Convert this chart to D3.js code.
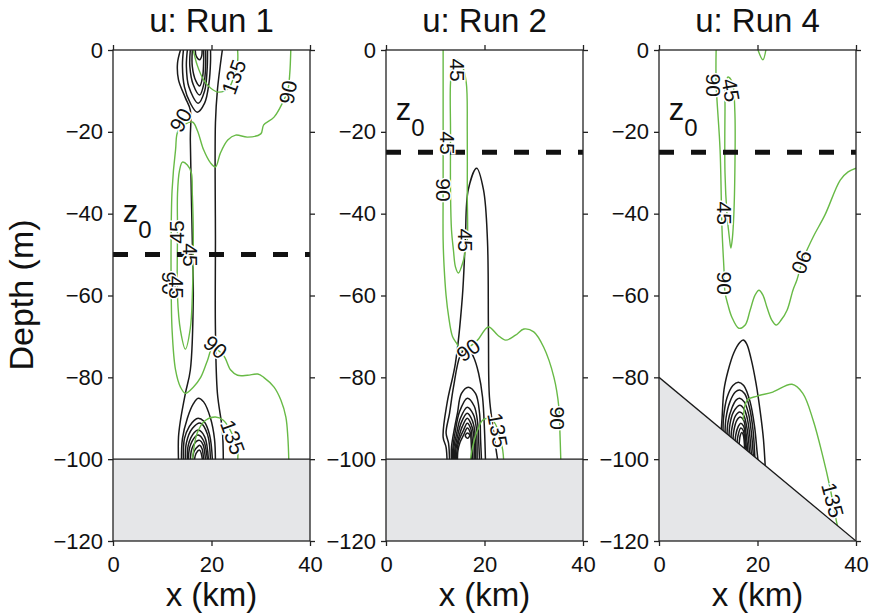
<!DOCTYPE html>
<html>
<head>
<meta charset="utf-8">
<script src="https://cdn.jsdelivr.net/npm/d3@7"></script>
<style>
  body { margin: 0; background: #fff; }
  svg { font-family: "Liberation Sans", Arial, Helvetica, sans-serif; }
</style>
</head>
<body>
<svg id="chart" width="870" height="615"></svg>
<script>
// ---- data (x in km, z in m) ----
var xTicks = [0, 20, 40];
var yTicks = [0, -20, -40, -60, -80, -100, -120];
var titles = ["u: Run 1", "u: Run 2", "u: Run 4"];
var z0Depth = [-50, -25, -25];

var bottom1 = [[0, -100], [40, -100]];
var bottom2 = [[0, -100], [40, -100]];
var bottom4 = [[0, -80], [40, -120]];

// black contours (u)
var run1Black = [
  [[13.7,0],[13.1,-3.2],[13.3,-7.3],[14.7,-11.7],[15.7,-14.7],[15.7,-22],[16.1,-46.5],[16.3,-60.4],[15.7,-78.2],[14.7,-83.9],[13.7,-90.5],[13.3,-94.6],[13.3,-100.5]],
  [[22.2,0],[21.2,-9.8],[20.8,-17.8],[20.8,-46.5],[20.8,-68.5],[21.2,-83.9],[22.2,-92.9],[22.4,-100.5]],
  [[14.3,0],[14.1,-4],[14.5,-9],[15.7,-13],[17.1,-15.2],[18.6,-13],[19.5,-8],[19.8,-3],[19.8,0]],
  [[15.1,0],[14.9,-4],[15.4,-9],[17.3,-13],[18.6,-10],[19.1,-5],[19.2,0]],
  [[15.7,0],[15.6,-4],[16.3,-8.5],[17.6,-11],[18.5,-8],[18.8,-4],[18.8,0]],
  [[16.1,0],[16.1,-4],[16.8,-7.5],[17.6,-8.8],[18.2,-6.5],[18.4,-3],[18.4,0]],
  [[16.7,0],[16.9,-1.5],[17.6,-2.4],[18,-1.5],[18.1,0]],
  [[13.9,-100.5],[14.1,-95],[15.1,-90],[16.3,-86.5],[17.3,-85.1],[18.4,-86],[19.8,-90],[20.6,-95],[20.8,-100.5]],
  [[14.3,-100.5],[14.5,-95],[15.5,-92],[16.5,-90.5],[17.3,-90],[18.4,-90.7],[19.6,-94],[20.2,-100.5]],
  [[14.7,-100.5],[14.9,-96],[16.1,-92.5],[17.8,-91.2],[19.2,-94],[19.8,-100.5]],
  [[15.1,-100.5],[15.3,-96.5],[16.5,-93.5],[17.3,-92.9],[18.6,-94.5],[19.4,-100.5]],
  [[15.3,-100.5],[15.6,-97],[16.7,-94.5],[17.3,-94.1],[18.4,-95.5],[19.2,-100.5]],
  [[15.7,-100.5],[16,-97.5],[17,-95.6],[17.6,-95.4],[18.3,-96.5],[18.8,-100.5]],
  [[16.1,-100.5],[16.5,-98],[17.3,-96.8],[17.6,-96.6],[18.1,-97.5],[18.4,-100.5]],
  [[16.5,-100.5],[16.9,-98.5],[17.6,-97.8],[18.2,-100.5]]
];
var run2Black = [
  [[12.4,-100.5],[12.2,-97.1],[11.6,-94.6],[12.4,-86.3],[14.1,-76.5],[15.5,-60.4],[16.1,-46.5],[16.7,-34.2],[18.4,-28.9],[19.8,-34.2],[20.6,-46.5],[20.8,-68.5],[21,-84.8],[21.8,-92.9],[22.7,-100.5]],
  [[12.9,-100.5],[12.7,-96.1],[12.2,-93.6],[12.9,-88.8],[13.7,-82.4],[15.1,-74.6],[16.5,-72.6],[17.8,-75.1],[18.8,-79],[19.6,-84.8],[20,-92.9],[20.2,-100.5]],
  [[13.3,-100.5],[13.3,-97],[13.9,-92.5],[14.5,-88.8],[15.3,-84],[16.7,-82.4],[18.2,-84],[19,-88.8],[19.2,-95],[19.4,-100.5]],
  [[13.5,-100.5],[13.6,-97],[14.1,-93],[14.9,-88.5],[16.5,-85.1],[17.9,-87],[18.6,-91],[18.8,-95],[19,-100.5]],
  [[13.7,-100.5],[13.8,-97],[14.3,-94],[15.1,-90],[16.5,-87.3],[17.7,-89],[18.3,-92],[18.5,-100.5]],
  [[13.9,-100.5],[14,-97.5],[14.5,-94.5],[15.3,-91],[16.5,-88.8],[17.5,-90.5],[18,-93],[18.2,-100.5]],
  [[14.1,-100.5],[14.2,-97.5],[14.7,-95],[15.5,-92],[16.5,-90],[17.3,-91.5],[17.8,-94],[17.9,-100.5]],
  [[14.3,-100.5],[14.4,-98],[14.8,-95.5],[15.7,-93],[16.5,-91.2],[17.2,-92.5],[17.5,-95],[17.6,-100.5]],
  [[14.5,-100.5],[14.6,-98],[15,-96],[15.8,-94],[16.5,-92.4],[17.1,-93.5],[17.3,-96],[17.4,-100.5]],
  [[16.1,-94.3],[16.5,-93.6],[17,-94.1],[16.6,-94.9],[16.1,-94.3]]
];
var run4Black = [
  [[12.6,-93.5],[12.8,-90],[13.2,-83],[14,-78.5],[15.2,-74],[16.4,-71.5],[17.1,-70.9],[17.8,-71.8],[18.7,-75.5],[19.7,-81.5],[20.6,-88.8],[21.2,-95],[21.6,-102.5]],
  [[13,-93.8],[13.1,-90],[13.8,-85],[15,-82],[16.1,-81.2],[17.2,-82],[18.5,-86],[19.4,-92],[19.9,-98],[20.2,-101.5]],
  [[13.4,-94],[13.6,-90],[14.4,-86],[15.5,-83.6],[16.4,-83.1],[17.4,-84],[18.4,-87.5],[19.1,-93],[19.5,-100.5]],
  [[13.8,-94.5],[14,-91],[14.8,-87.5],[15.7,-85.5],[16.4,-85.1],[17.3,-86],[18.2,-89],[18.8,-94],[19.2,-100]],
  [[14.2,-95],[14.4,-91.5],[15.1,-88.5],[16.4,-86.8],[17.3,-87.8],[18,-90.5],[18.5,-95],[18.8,-99.5]],
  [[14.6,-95.5],[14.8,-92.5],[15.5,-89.5],[16.4,-88.5],[17.2,-89.3],[17.8,-92],[18.2,-95.5],[18.4,-99]],
  [[15,-96],[15.2,-93],[15.8,-90.5],[16.5,-89.7],[17.2,-90.5],[17.6,-93],[17.9,-96],[18.1,-99]],
  [[15.4,-96.5],[15.6,-94],[16.1,-92],[16.6,-91.2],[17.2,-92],[17.5,-94],[17.8,-98.5]],
  [[15.8,-97],[16,-94.5],[16.6,-92.4],[17.1,-93],[17.4,-95],[17.6,-98.5]],
  [[16.2,-97.5],[16.5,-94.2],[16.8,-93.5],[17.1,-94],[17.4,-98]]
];

// green contours
var run1Green = [
  [[36.1,0],[35.9,-5.6],[35.5,-9.8],[34.5,-12.7],[32.7,-16.4],[30.6,-18.3],[30,-20.5],[27.3,-21.3],[24.9,-20.8],[23.3,-22],[21.8,-25.2],[20.8,-28.6],[19.8,-27.6],[18.4,-24.4],[17.1,-19.6],[16.1,-17.6],[13.3,-19.6],[12.7,-24.4],[12,-34.2],[11.8,-46.5],[11.8,-56.2],[12,-68.5],[12.7,-78.2],[13.7,-82.4],[14.7,-83.9],[16.3,-82.4],[17.8,-80],[19.2,-75.8],[20.2,-72.9],[22.4,-74.6],[23.9,-78.2],[25.3,-79.5],[27.3,-79.5],[29.4,-79.2],[30.6,-80],[32.7,-82.4],[34.1,-85.6],[35.1,-89.7],[35.5,-94.6],[35.7,-100.5]],
  [[14.7,-73.1],[13.7,-68.5],[13.1,-60.4],[13.1,-44],[13.1,-35],[13.5,-29.5],[14.1,-27.4],[15.1,-28.1],[15.9,-30],[16.1,-35],[16.3,-44],[16.1,-60.4],[15.7,-68],[14.7,-73.1]],
  [[16.3,0],[17.1,-3.7],[18.4,-7.3],[19.8,-9.3],[21.4,-10.3],[23.5,-9.3],[24.5,-6.6],[25.3,-2.9],[25.3,0]],
  [[16.1,-100.5],[17.1,-93.6],[18.8,-90.5],[20.8,-89.7],[22.4,-90.5],[24.3,-94.1],[25.3,-97.8],[25.3,-100.5]]
];
var run2Green = [
  [[11.6,0],[11.6,-20],[11.6,-34],[11.6,-46.5],[11.8,-53],[12.2,-60],[12.7,-65],[13.5,-70],[14.3,-71.6],[15.3,-73.3],[17,-72.5],[18.6,-70.9],[20.8,-67.7],[22.7,-69.7],[24.3,-70.9],[26.3,-69.7],[28,-68.2],[30,-68.9],[32,-72.6],[34.1,-80],[35.1,-87.3],[35.3,-92.9],[35.5,-100.5]],
  [[14.5,-2.5],[15.5,-4],[16.3,-8],[16.5,-20],[16.5,-35],[16.5,-46.5],[16.1,-49],[15.7,-51.5],[14.7,-54.5],[14.1,-53],[13.7,-49],[13.3,-44],[13.1,-35],[13.1,-20],[13.1,-8],[13.5,-4],[14.5,-2.5]],
  [[17.1,-100.5],[17.6,-97],[18.6,-92.9],[19.6,-90.5],[20.8,-90],[22,-91],[23,-94],[23.7,-97.8],[23.9,-100.5]]
];
var run4Green = [
  [[20.1,0],[21.1,-2.4],[21.7,0]],
  [[11.6,0],[11.6,-8.1],[12.4,-24.4],[12.8,-44],[13.2,-53.8],[13.4,-59.2],[14,-62.3],[14.8,-65.3],[16.2,-68],[17.5,-67.2],[18.5,-63.6],[19.5,-59.9],[20.3,-58.7],[21.1,-59.9],[21.9,-62.8],[22.9,-66],[23.8,-67.2],[24.8,-66],[26,-63.6],[27.2,-58.7],[28,-56.2],[29.2,-51.3],[31.3,-45.7],[33.7,-40.3],[36.8,-31.8],[38.4,-29.8],[40,-28.9]],
  [[14,-6.6],[14.9,-8],[15.4,-15],[15.4,-30],[15.2,-40],[14.9,-46],[14.6,-48.4],[14.3,-46],[13.8,-40],[13.4,-30],[13.4,-15],[13.5,-9],[14,-6.6]],
  [[17.1,-90.5],[17.9,-85.6],[19.9,-84.6],[23.1,-83.6],[27,-81.7],[29.2,-83.9],[31.3,-90.5],[33.3,-99.5],[34.7,-106.8],[36.1,-115.6],[36.4,-117]]
];

// contour labels: [text, x, z, angle]
var run1Labels = [
  ["135", 24.5, -6.6, -70], ["90", 35.5, -10.3, -80], ["90", 13.7, -17.1, -60],
  ["45", 12.9, -44.5, -90], ["45", 15.7, -50.1, 90], ["90", 11.4, -57, 90],
  ["45", 12.9, -58, 90], ["90", 20.8, -72.6, 40], ["135", 24.3, -94.6, 70]
];
var run2Labels = [
  ["45", 14.5, -4.9, 90], ["45", 12.4, -22.7, 90], ["90", 11.6, -34.2, 90],
  ["45", 16.1, -46.5, 90], ["90", 16.7, -73.3, -35], ["135", 22.7, -92.9, 80],
  ["90", 34.9, -90, 90]
];
var run4Labels = [
  ["90", 11, -8.6, 90], ["45", 14.6, -9.8, 80], ["45", 13.4, -39.9, 90],
  ["90", 13.4, -57, 90], ["90", 29, -51.8, 110], ["135", 35.3, -110, 75]
];

var panels = [
  {black: run1Black, green: run1Green, labels: run1Labels, bottom: bottom1},
  {black: run2Black, green: run2Green, labels: run2Labels, bottom: bottom2},
  {black: run4Black, green: run4Green, labels: run4Labels, bottom: bottom4}
];

// ---- layout ----
var lefts = [113, 386, 659];
var pw = 197, yTop = 50, yBot = 541;
var green = "#68ba46";

var svg = d3.select("#chart");

panels.forEach(function(p, i) {
  var x = d3.scaleLinear().domain([0, 40]).range([lefts[i], lefts[i] + pw]);
  var y = d3.scaleLinear().domain([0, -120]).range([yTop, yBot]);
  var g = svg.append("g");

  var cid = "clip" + i;
  svg.append("clipPath").attr("id", cid).append("rect")
    .attr("x", x(0)).attr("y", y(0)).attr("width", pw).attr("height", yBot - yTop);
  var inner = g.append("g").attr("clip-path", "url(#" + cid + ")");

  var line = d3.line().x(function(d) { return x(d[0]); }).y(function(d) { return y(d[1]); })
    .curve(d3.curveCatmullRom.alpha(0.5));
  var loop = d3.line().x(function(d) { return x(d[0]); }).y(function(d) { return y(d[1]); })
    .curve(d3.curveCatmullRomClosed.alpha(0.5));
  var straight = d3.line().x(function(d) { return x(d[0]); }).y(function(d) { return y(d[1]); });
  function path(d) {
    var a = d[0], b = d[d.length - 1];
    return (a[0] === b[0] && a[1] === b[1]) ? loop(d.slice(0, -1)) : line(d);
  }

  inner.selectAll(".blk").data(p.black).enter().append("path")
    .attr("d", path).attr("fill", "none").attr("stroke", "#1a1a1a").attr("stroke-width", 1.5);
  inner.selectAll(".grn").data(p.green).enter().append("path")
    .attr("d", path).attr("fill", "none").attr("stroke", green).attr("stroke-width", 1.4);

  // sea floor
  var floor = p.bottom.concat([[40, -120], [0, -120]]);
  inner.append("path").attr("d", straight(floor) + "Z")
    .attr("fill", "#e5e6e8").attr("stroke", "none");
  inner.append("path").attr("d", straight(p.bottom))
    .attr("fill", "none").attr("stroke", "#1a1a1a").attr("stroke-width", 1.3);

  // z0 dashed line
  inner.append("line")
    .attr("x1", x(0)).attr("x2", x(40)).attr("y1", y(z0Depth[i])).attr("y2", y(z0Depth[i]))
    .attr("stroke", "#111").attr("stroke-width", 5).attr("stroke-dasharray", "15,17");

  // contour labels
  g.selectAll(".lab").data(p.labels).enter().append("text")
    .attr("transform", function(d) { return "translate(" + x(d[1]) + "," + y(d[2]) + ") rotate(" + d[3] + ")"; })
    .attr("text-anchor", "middle").attr("dominant-baseline", "central")
    .attr("font-size", 21).attr("fill", "#111")
    .attr("stroke", "#fff").attr("stroke-width", 3).attr("paint-order", "stroke")
    .text(function(d) { return d[0]; });

  // z0 label
  var zl = g.append("text").attr("x", x(2)).attr("y", y(z0Depth[i] + 8)).attr("font-size", 31).attr("fill", "#111");
  zl.append("tspan").text("z");
  zl.append("tspan").attr("font-size", 24).attr("dy", 16).text("0");

  // frame and axes
  g.append("rect").attr("x", x(0)).attr("y", y(0)).attr("width", pw).attr("height", yBot - yTop)
    .attr("fill", "none").attr("stroke", "#222").attr("stroke-width", 1.3);

  var ax = [
    g.append("g").attr("transform", "translate(" + x(0) + ",0)")
      .call(d3.axisLeft(y).tickValues(yTicks).tickSize(5).tickSizeOuter(0).tickPadding(5)),
    g.append("g").attr("transform", "translate(" + x(40) + ",0)")
      .call(d3.axisRight(y).tickValues(yTicks).tickSize(5).tickSizeOuter(0).tickFormat("")),
    g.append("g").attr("transform", "translate(0," + y(0) + ")")
      .call(d3.axisTop(x).tickValues(xTicks).tickSize(5).tickSizeOuter(0).tickFormat("")),
    g.append("g").attr("transform", "translate(0," + y(-120) + ")")
      .call(d3.axisBottom(x).tickValues(xTicks).tickSize(5).tickSizeOuter(0).tickPadding(10))
  ];
  ax.forEach(function(a) {
    a.select(".domain").remove();
    a.selectAll("line").attr("stroke", "#222").attr("stroke-width", 1.3);
    a.selectAll("text").attr("font-size", 22).attr("font-family", null).attr("fill", "#111");
  });

  svg.append("text").attr("x", x(20)).attr("y", 32).attr("text-anchor", "middle")
    .attr("font-size", 33).attr("fill", "#111").text(titles[i]);
  svg.append("text").attr("x", x(20)).attr("y", 606).attr("text-anchor", "middle")
    .attr("font-size", 33).attr("fill", "#111").text("x (km)");
});

svg.append("text").attr("transform", "translate(33,295) rotate(-90)").attr("text-anchor", "middle")
  .attr("font-size", 34).attr("fill", "#111").text("Depth (m)");
</script>
</body>
</html>
